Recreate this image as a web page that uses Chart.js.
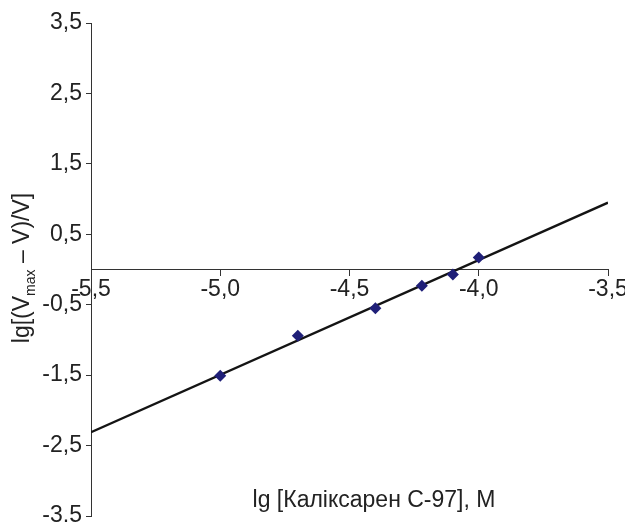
<!DOCTYPE html>
<html>
<head>
<meta charset="utf-8">
<script src="https://cdn.jsdelivr.net/npm/chart.js@4"></script>
<style>
  html, body { margin: 0; padding: 0; background: #fff; }
  #wrap { width: 625px; height: 522px; }
</style>
</head>
<body>
<div id="wrap"><canvas id="chart"></canvas></div>
<script>
// Дані
const pointsX = [-5.0, -4.7, -4.4, -4.22, -4.1, -4.0];
const pointsY = [-1.51, -0.94, -0.55, -0.23, -0.07, 0.17];
const fitX = [-5.5, -3.5];
const fitY = [-2.31, 0.95];
const xTicks = [-5.5, -5.0, -4.5, -4.0, -3.5];
const yTicks = [-3.5, -2.5, -1.5, -0.5, 0.5, 1.5, 2.5, 3.5];

const textColor = '#222';
const axisColor = '#333';
const fontFamily = "'Liberation Sans', Arial, sans-serif";

function formatComma(v) {
    return v.toFixed(1).replace('.', ',');
}

// Підписи осей (з індексом)
const axisTitles = {
    id: 'axisTitles',
    afterDraw(chart) {
        const ctx = chart.ctx;
        ctx.save();
        ctx.fillStyle = textColor;
        ctx.textBaseline = 'alphabetic';

        // X
        ctx.font = `23px ${fontFamily}`;
        ctx.textAlign = 'center';
        ctx.fillText('lg [Каліксарен С-97], М', 374, 507);

        // Y
        const parts = [
            { t: 'lg[(V', f: `23px ${fontFamily}`, dy: 0 },
            { t: 'max', f: `14px ${fontFamily}`, dy: 6 },
            { t: ' \u2013 V)/V]', f: `23px ${fontFamily}`, dy: 0 }
        ];
        let total = 0;
        parts.forEach(p => { ctx.font = p.f; p.w = ctx.measureText(p.t).width; total += p.w; });
        ctx.translate(29, 268);
        ctx.rotate(-Math.PI / 2);
        ctx.textAlign = 'left';
        let x = -total / 2;
        parts.forEach(p => {
            ctx.font = p.f;
            ctx.fillText(p.t, x, p.dy);
            x += p.w;
        });
        ctx.restore();
    }
};

new Chart(document.getElementById('chart'), {
    type: 'scatter',
    data: {
        datasets: [
            {
                label: 'fit',
                type: 'line',
                data: fitX.map((x, i) => ({ x: x, y: fitY[i] })),
                borderColor: '#141414',
                borderWidth: 2.4,
                pointRadius: 0,
                fill: false,
                order: 2
            },
            {
                label: 'data',
                data: pointsX.map((x, i) => ({ x: x, y: pointsY[i] })),
                pointStyle: 'rectRot',
                pointRadius: 6,
                backgroundColor: '#1f1f78',
                borderColor: '#1f1f78',
                borderWidth: 0,
                order: 1
            }
        ]
    },
    options: {
        responsive: true,
        maintainAspectRatio: false,
        animation: false,
        layout: { padding: { top: 23, bottom: 6, left: 0, right: 17 } },
        plugins: {
            legend: { display: false },
            tooltip: { enabled: false }
        },
        scales: {
            x: {
                type: 'linear',
                min: -5.5,
                max: -3.5,
                position: { y: 0 },
                afterBuildTicks: scale => { scale.ticks = xTicks.map(v => ({ value: v })); },
                afterFit: scale => { scale.paddingLeft = 0; scale.paddingRight = 0; },
                border: { display: true, color: axisColor, width: 1 },
                grid: { drawOnChartArea: false, drawTicks: true, tickLength: 6, color: axisColor },
                ticks: {
                    color: textColor,
                    font: { family: fontFamily, size: 23 },
                    padding: 0,
                    maxRotation: 0,
                    autoSkip: false,
                    callback: v => formatComma(v)
                }
            },
            y: {
                type: 'linear',
                min: -3.5,
                max: 3.5,
                position: 'left',
                afterBuildTicks: scale => { scale.ticks = yTicks.map(v => ({ value: v })); },
                afterFit: scale => {
                    scale.width = 91;
                    scale.paddingTop = 0;
                    scale.paddingBottom = 0;
                },
                border: { display: true, color: axisColor, width: 1 },
                grid: { drawOnChartArea: false, drawTicks: true, tickLength: 5, color: axisColor },
                ticks: {
                    color: textColor,
                    font: { family: fontFamily, size: 23 },
                    padding: 4,
                    autoSkip: false,
                    callback: v => formatComma(v)
                }
            }
        }
    },
    plugins: [axisTitles]
});
</script>
</body>
</html>
